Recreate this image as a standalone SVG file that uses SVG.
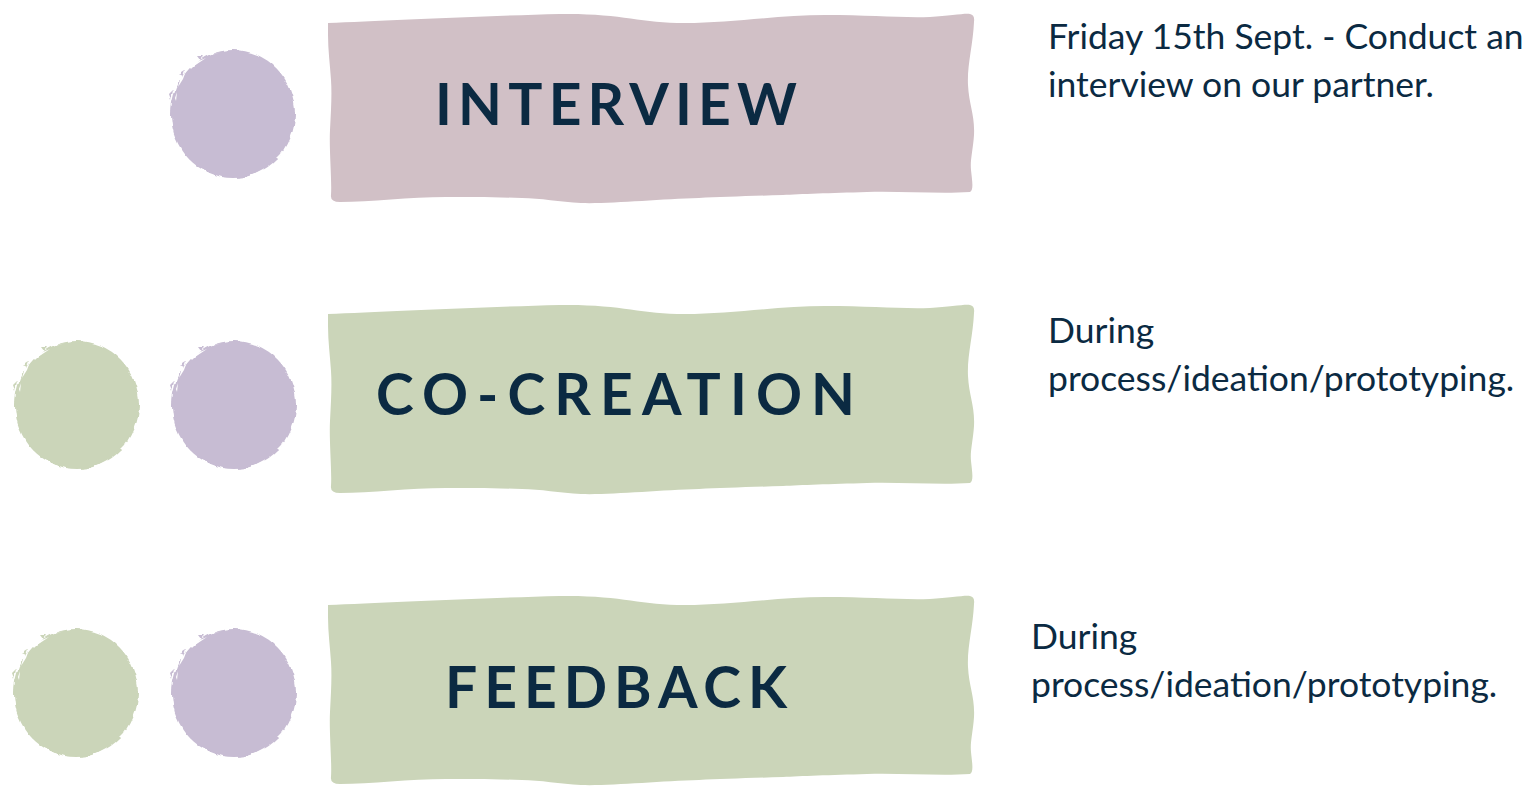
<svg xmlns="http://www.w3.org/2000/svg" xmlns:xlink="http://www.w3.org/1999/xlink" width="1537" height="790" viewBox="0 0 1537 790">
  <style>
    .title { font-family: Lato, "Liberation Sans", sans-serif; font-weight: 700; font-size: 57px; fill: #0b2a42; }
    .note { font-family: Lato, "Liberation Sans", sans-serif; font-weight: 400; font-size: 35.5px; fill: #0b2a42; }
    .pink { fill: #d1c0c6; }
    .sage { fill: #cbd5b9; }
    .lilac { fill: #c7bcd3; }
    .scratch { fill: #ffffff; }
  </style>
  <defs>
    <!-- ragged brush edge -->
    <filter id="rough" x="-20%" y="-20%" width="140%" height="140%">
      <feTurbulence type="fractalNoise" baseFrequency="0.09" numOctaves="2" seed="4" result="noise"/>
      <feDisplacementMap in="SourceGraphic" in2="noise" scale="5" xChannelSelector="R" yChannelSelector="G"/>
    </filter>
    <!-- hand-torn paper banner -->
    <path id="banner" d="M 328 23 C 380 21, 480 16, 560 14 C 620 13, 640 23, 685 23 C 730 23, 780 15, 825 15 C 870 15, 900 18, 930 17 C 950 16, 965 13, 970 14 Q 975 15, 974 22 C 973 45, 967 65, 968 85 C 969 105, 975 115, 974 135 C 973 150, 970 160, 971 170 C 972 180, 974 190, 970 192 C 940 194, 900 191, 867 192 C 830 193, 800 194, 783 195 C 750 196, 720 197, 699 198 C 660 199, 610 204, 581 203 C 560 202, 540 198, 522 198 C 490 197, 470 197, 446 197 C 410 197, 370 202, 340 202 Q 330 202, 331 195 C 332 180, 329 150, 330 130 C 331 110, 332 95, 331 80 C 330 65, 328 50, 328 35 Z"/>
    <!-- brush-painted dot, centred on the origin -->
    <g id="dot-shape">
      <ellipse cx="0" cy="0" rx="62" ry="64"/>
      <path d="M -60 -24 L -64 -20 L -62 -14 Z"/>
      <path d="M -48 -44 L -54 -40 L -50 -38 Z"/>
      <path d="M -30 -58 L -36 -58 L -33 -54 Z"/>
    </g>
    <!-- dry-brush streaks along the upper-left rim -->
    <g id="streaks" class="scratch">
      <path d="M -41 -50 L -27 -56 L -30 -54 L -39 -48 Z"/>
      <path d="M -53 -34 L -47 -43 L -50 -35 L -55 -27 Z"/>
      <path d="M -58 -16 L -56 -22 L -57 -13 Z"/>
      <path d="M -22 -59 L -12 -62 L -18 -60 Z"/>
      <path d="M 43 44 L 50 37 L 46 44 Z"/>
      <path d="M 20 60 L 30 56 L 24 60 Z"/>
    </g>
  </defs>

  <!-- row 1 -->
  <g id="interview">
    <use xlink:href="#banner" class="pink"/>
    <text class="title" x="435" y="125" textLength="362" lengthAdjust="spacing">INTERVIEW</text>
  </g>
  <g id="interview-dot">
    <g transform="translate(233,114)"><use xlink:href="#dot-shape" class="lilac" filter="url(#rough)"/><use xlink:href="#streaks"/></g>
  </g>
  <g id="interview-note">
    <text class="note" x="1048" y="49">Friday 15th Sept. - Conduct an</text>
    <text class="note" x="1048" y="97">interview on our partner.</text>
  </g>

  <!-- row 2 -->
  <g id="co-creation">
    <use xlink:href="#banner" class="sage" transform="translate(0,291)"/>
    <text class="title" x="376" y="415" textLength="479" lengthAdjust="spacing">CO-CREATION</text>
  </g>
  <g id="co-creation-dots">
    <g transform="translate(77,405)"><use xlink:href="#dot-shape" class="sage" filter="url(#rough)"/><use xlink:href="#streaks"/></g>
    <g transform="translate(234,405)"><use xlink:href="#dot-shape" class="lilac" filter="url(#rough)"/><use xlink:href="#streaks"/></g>
  </g>
  <g id="co-creation-note">
    <text class="note" x="1048" y="343">During</text>
    <text class="note" x="1048" y="391">process/ideation/prototyping.</text>
  </g>

  <!-- row 3 -->
  <g id="feedback">
    <use xlink:href="#banner" class="sage" transform="translate(0,582)"/>
    <text class="title" x="445" y="708" textLength="342" lengthAdjust="spacing">FEEDBACK</text>
  </g>
  <g id="feedback-dots">
    <g transform="translate(76,693)"><use xlink:href="#dot-shape" class="sage" filter="url(#rough)"/><use xlink:href="#streaks"/></g>
    <g transform="translate(234,693)"><use xlink:href="#dot-shape" class="lilac" filter="url(#rough)"/><use xlink:href="#streaks"/></g>
  </g>
  <g id="feedback-note">
    <text class="note" x="1031" y="649">During</text>
    <text class="note" x="1031" y="697">process/ideation/prototyping.</text>
  </g>
</svg>
